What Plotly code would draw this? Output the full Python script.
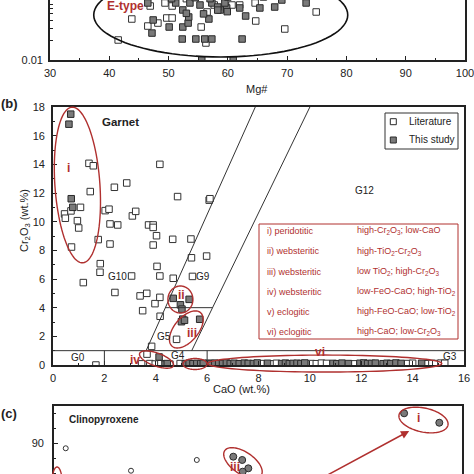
import math
import plotly.graph_objects as go

W = H = 474
FONT = "Arial, Liberation Sans, sans-serif"
RED = "#b0302f"
INK = "#222222"

# ---------------- Panel (a): Mg# vs (log) ----------------
a_lit_mg = [43.8, 41.5, 46.5, 48.2, 49.7, 50.6, 55.5, 56.3, 64.7, 69.6, 74.9, 46.9, 49.4, 50.6,
            57.7, 60.7, 64.6, 56.5, 62.0, 53.0, 66.0]
a_lit_val = [0.0418, 0.0201, 0.0327, 0.0363, 0.0433, 0.0433, 0.0316, 0.0181, 0.0390, 0.0295, 0.0534,
             0.0658, 0.0731, 0.0658, 0.0681, 0.0681, 0.0731, 0.0534, 0.0681, 0.085, 0.090]
a_study_mg = [47.4, 47.2, 50.1, 52.3, 54.6, 56.1, 57.3, 62.4, 55.6, 60.9, 52.4, 53.3, 53.4, 52.4,
              56.8, 58.7, 59.8, 63.0, 65.4, 67.9, 73.2, 69.1, 46.5, 51.2, 53.6, 55.3, 57.3, 58.3,
              59.5, 62.0, 54.5, 57.0, 60.0, 52.5, 50.5, 53.0, 58.3, 59.9, 55.9]
a_study_val = [0.0404, 0.0256, 0.0316, 0.0208, 0.0208, 0.0208, 0.0208, 0.0208, 0.0100, 0.0100,
               0.0316, 0.0363, 0.0448, 0.0573, 0.0418, 0.0573, 0.0614, 0.0464, 0.0614, 0.0635,
               0.0731, 0.0811, 0.0731, 0.0731, 0.0731, 0.0681, 0.0731, 0.0635, 0.0731, 0.0614,
               0.088, 0.085, 0.090, 0.095, 0.085, 0.051, 0.057, 0.054, 0.050]
a_xticks = [30, 40, 50, 60, 70, 80, 90, 100]

# ---------------- Panel (b): Garnet CaO vs Cr2O3 ----------------
b_lit_cao = [1.40, 1.57, 4.16, 1.45, 2.39, 2.87, 4.85, 6.08, 6.11,
             0.45, 0.48, 0.70, 1.07, 0.95, 1.00,
             2.03, 2.18, 2.22, 2.52, 3.09, 3.22, 3.72, 3.90, 3.90, 4.03,
             4.66, 5.37, 1.76, 2.22, 3.90, 0.72, 5.39, 5.98, 1.84, 1.83,
             3.06, 4.05, 4.16, 4.68, 5.43, 1.18, 2.41, 3.39, 3.65, 3.97,
             4.16, 3.49, 4.17, 4.81, 3.84, 3.66, 1.67,
             3.45, 3.77, 3.98, 4.20, 4.55, 4.95,
             6.05, 8.10, 8.55, 8.70, 10.05, 10.25, 10.45, 10.65, 11.70, 13.80, 14.00, 14.55,
             14.75, 14.90, 15.10, 15.25]
b_lit_cr = [14.07, 13.90, 14.00, 12.10, 12.40, 12.70, 11.75, 11.50, 11.60,
            10.54, 10.24, 10.75, 11.00, 10.07, 9.56,
            10.77, 10.87, 9.84, 9.77, 10.40, 10.72, 9.77, 9.77, 9.60, 9.02,
            8.77, 8.79, 8.75, 8.44, 8.37, 8.23, 7.48, 7.60, 7.07, 6.47,
            6.21, 6.88, 6.21, 6.05, 6.18, 5.75, 5.06, 4.82, 5.00, 4.28,
            4.72, 3.79, 3.40, 1.79, 1.30, 0.76, 0.00,
            0.08, 0.10, 0.07, 0.09, 0.06, 0.10,
            0.12, 0.10, 0.08, 0.12, 0.10, 0.09, 0.13, 0.11, 0.08, 0.10, 0.12, 0.09,
            0.11, 0.10, 0.13, 0.12]
b_study_cao = [0.69, 0.62, 0.71, 0.77, 4.68, 4.96, 5.02, 5.30, 5.05, 5.00, 5.12, 5.71, 4.13, 4.36, 4.45,
               5.15, 5.30, 5.45, 5.60, 5.75, 5.85,
               6.15, 6.30, 6.45, 6.60, 6.75, 6.90, 7.05, 7.25, 7.45, 7.60, 7.80, 7.95, 8.35, 8.90,
               9.05, 9.20, 9.35, 9.50, 9.65, 9.80, 10.90, 11.05, 11.25, 11.50, 11.95, 12.10, 12.25,
               12.40, 12.55, 12.85, 13.00, 13.15, 13.35, 13.55, 14.35]
b_study_cr = [17.50, 16.80, 11.60, 11.00, 4.65, 4.20, 3.90, 4.58, 3.20, 3.02, 3.12, 3.19, 0.56, 0.06, 0.10,
              0.10, 0.12, 0.09, 0.11, 0.10, 0.12,
              0.10, 0.13, 0.09, 0.11, 0.14, 0.10, 0.12, 0.09, 0.13, 0.11, 0.10, 0.14, 0.12, 0.10,
              0.13, 0.09, 0.11, 0.12, 0.10, 0.14, 0.11, 0.09, 0.13, 0.10, 0.12, 0.14, 0.10,
              0.11, 0.13, 0.09, 0.12, 0.10, 0.14, 0.11, 0.12]
b_ticks_x = [0, 2, 4, 6, 8, 10, 12, 14, 16]
b_ticks_y = [0, 2, 4, 6, 8, 10, 12, 14, 16, 18]

b_groups = ["i) peridotitic", "ii) websteritic", "iii) websteritic", "iv) websteritic",
            "v) eclogitic", "vi) eclogitic"]
b_group_desc = ["high-Cr<sub>2</sub>O<sub>3</sub>; low-CaO",
                "high-TiO<sub>2</sub>-Cr<sub>2</sub>O<sub>3</sub>",
                "low TiO<sub>2</sub>; high-Cr<sub>2</sub>O<sub>3</sub>",
                "low-FeO-CaO; high-TiO<sub>2</sub>",
                "high-FeO-CaO; low-TiO<sub>2</sub>",
                "high-CaO; low-Cr<sub>2</sub>O<sub>3</sub>"]

# ---------------- Panel (c): Clinopyroxene ----------------
c_lit_x = [0.46, 3.02, 5.60]
c_lit_y = [89.12, 85.38, 87.17]
c_study_x = [13.73, 15.11, 7.03, 7.38, 7.62, 7.40]
c_study_y = [94.95, 93.38, 87.72, 87.17, 85.78, 85.22]

# ---------------- geometry ----------------
PA = dict(xd=[50 / W, 465 / W], yd=[1 - 60 / H, 1.0], xr=[30, 100], yr=[-2, -2 + 60 / 66], log=True)
PB = dict(xd=[53 / W, 464 / W], yd=[1 - 365 / H, 1 - 107 / H], xr=[0, 16], yr=[0, 18], log=False)
PC = dict(xd=[54 / W, 462 / W], yd=[0.0, 1 - 406 / H], xr=[0, 16],
          yr=[90 - (474 - 443) / 6, 90 + (443 - 406) / 6], log=False)


def to_px(p, xv, yv):
    x0, x1 = p["xd"]; r0, r1 = p["xr"]
    y0, y1 = p["yd"]; s0, s1 = p["yr"]
    yy = math.log10(yv) if p["log"] else yv
    px = (x0 + (xv - r0) / (r1 - r0) * (x1 - x0)) * W
    py = (1 - (y0 + (yy - s0) / (s1 - s0) * (y1 - y0))) * H
    return px, py


def ellipse(p, cx, cy, rx, ry, ang, color=RED, width=1.4):
    pcx, pcy = to_px(p, cx, cy)
    a = math.radians(ang)
    pts = []
    for i in range(97):
        t = 2 * math.pi * i / 96
        ex, ey = rx * math.cos(t), ry * math.sin(t)
        X = pcx + ex * math.cos(a) - ey * math.sin(a)
        Y = pcy - (ex * math.sin(a) + ey * math.cos(a))
        pts.append(f"{X / W:.5f},{1 - Y / H:.5f}")
    return dict(type="path", xref="paper", yref="paper", path="M " + " L ".join(pts) + " Z",
                line=dict(color=color, width=width), layer="above")


def ptext(px, py, text, size=10, color=INK, bold=False, xanchor="center", angle=0):
    t = f"<b>{text}</b>" if bold else text
    return dict(x=px / W, y=1 - py / H, xref="paper", yref="paper", text=t, showarrow=False,
                xanchor=xanchor, yanchor="middle", textangle=angle,
                font=dict(family=FONT, size=size, color=color))


def dtext(xr, yr, x, y, text, size=10, color=INK, bold=False, xanchor="center"):
    t = f"<b>{text}</b>" if bold else text
    return dict(x=x, y=y, xref=xr, yref=yr, text=t, showarrow=False, xanchor=xanchor,
                yanchor="middle", font=dict(family=FONT, size=size, color=color))


open_sq = dict(symbol="square", size=6.5, color="white", line=dict(color="#333333", width=1))
fill_sq = dict(symbol="square", size=6.5, color="#7a7a7a", line=dict(color="#2a2a2a", width=1))

fig = go.Figure()
# panel a
fig.add_trace(go.Scatter(x=a_lit_mg, y=a_lit_val, mode="markers", marker=open_sq,
                         xaxis="x", yaxis="y", showlegend=False))
fig.add_trace(go.Scatter(x=a_study_mg, y=a_study_val, mode="markers", marker=fill_sq,
                         xaxis="x", yaxis="y", showlegend=False))
# panel b
fig.add_trace(go.Scatter(x=b_lit_cao, y=b_lit_cr, mode="markers", marker=open_sq,
                         xaxis="x2", yaxis="y2", showlegend=False))
fig.add_trace(go.Scatter(x=b_study_cao, y=b_study_cr, mode="markers", marker=fill_sq,
                         xaxis="x2", yaxis="y2", showlegend=False))
# panel c
fig.add_trace(go.Scatter(x=c_lit_x, y=c_lit_y, mode="markers",
                         marker=dict(symbol="circle", size=5, color="white",
                                     line=dict(color="#333333", width=1)),
                         xaxis="x3", yaxis="y3", showlegend=False))
fig.add_trace(go.Scatter(x=c_study_x, y=c_study_y, mode="markers",
                         marker=dict(symbol="circle", size=7, color="#7a7a7a",
                                     line=dict(color="#2a2a2a", width=1)),
                         xaxis="x3", yaxis="y3", showlegend=False))

axcommon = dict(showgrid=False, zeroline=False, showline=True, linecolor=INK, linewidth=1.6,
                ticks="inside", tickcolor=INK, ticklen=4, tickwidth=1, automargin=False,
                ticklabeloverflow="allow",
                tickfont=dict(family=FONT, size=11, color=INK))

shapes = []
annos = []

# ---- panel b lines (classification fields) ----
b_lines = [((3.625, 1), (7.875, 18)), ((5.4, 1), (10.0, 18)), ((4.375, 4), (6.21, 4)),
           ((0, 1), (16, 1)), ((2, 0), (2, 1)), ((6, 0), (6, 1))]
for (x0, y0), (x1, y1) in b_lines:
    shapes.append(dict(type="line", xref="x2", yref="y2", x0=x0, y0=y0, x1=x1, y1=y1,
                       line=dict(color="#333333", width=1)))

# ellipses
shapes.append(ellipse(PA, 58.8, 0.0481, 127, 42, 0, color="#111111", width=1.6))
shapes.append(ellipse(PB, 0.95, 12.56, 22.5, 78, 4))
shapes.append(ellipse(PB, 4.96, 4.57, 12.5, 13.5, 0))
shapes.append(ellipse(PB, 5.19, 2.48, 22, 12, 50))
shapes.append(ellipse(PB, 4.03, 0.38, 18, 6.5, -20))
shapes.append(ellipse(PB, 5.53, 0.07, 12, 5.5, 0))
shapes.append(ellipse(PB, 10.58, 0.10, 117, 8.5, 0))
shapes.append(ellipse(PC, 14.49, 93.83, 25, 12, -12))
shapes.append(ellipse(PC, 7.41, 86.67, 22, 11, -34))
shapes.append(ellipse(PC, 0.12, 83.5, 5, 15, 0))

# legend box (manual)
shapes.append(dict(type="rect", xref="paper", yref="paper", x0=385 / W, x1=458 / W,
                   y0=1 - 149 / H, y1=1 - 113 / H, line=dict(color="#333333", width=1),
                   fillcolor="white"))
for cy, fc in [(121.7, "white"), (140, "#7a7a7a")]:
    shapes.append(dict(type="rect", xref="paper", yref="paper", x0=390.3 / W, x1=396.3 / W,
                       y0=1 - (cy + 3) / H, y1=1 - (cy - 3) / H,
                       line=dict(color="#2a2a2a", width=1), fillcolor=fc))
annos.append(ptext(407, 121.7, "Literature", size=10, xanchor="left"))
annos.append(ptext(407, 140, "This study", size=10, xanchor="left"))

# red info box
shapes.append(dict(type="rect", xref="paper", yref="paper", x0=259 / W, x1=458 / W,
                   y0=1 - 339 / H, y1=1 - 224 / H, line=dict(color=RED, width=1),
                   fillcolor="white"))
rows_y = [230.7, 251, 271.7, 291.7, 311.7, 331.7]
for yy, g, d in zip(rows_y, b_groups, b_group_desc):
    annos.append(ptext(265, yy, g, size=9, color=RED, xanchor="left"))
    annos.append(ptext(355, yy, d, size=9, color=RED, xanchor="left"))

# panel labels & titles
annos.append(ptext(126, 6, "E-type", size=12, color=RED, bold=True))
annos.append(ptext(257, 89, "Mg#", size=11))
annos.append(ptext(9, 103, "(b)", size=13, bold=True))
annos.append(ptext(9, 413, "(c)", size=13, bold=True))
annos.append(ptext(100, 122.3, "Garnet", size=11.5, bold=True, xanchor="left"))
annos.append(ptext(67, 419, "Clinopyroxene", size=10, bold=True, xanchor="left"))
annos.append(ptext(241, 389, "CaO (wt.%)", size=11))
annos.append(ptext(25, 221, "Cr<sub>2</sub>O<sub>3</sub> (wt.%)", size=11, angle=-90))

# field labels in panel b
for x, y, t in [(0.99, 0.51, "G0"), (4.86, 0.63, "G4"), (4.31, 2.02, "G5"), (2.52, 6.2, "G10"),
                (5.85, 6.16, "G9"), (12.14, 12.14, "G12"), (15.45, 0.56, "G3")]:
    annos.append(dtext("x2", "y2", x, y, t, size=10))
# group labels
for x, y, t in [(0.62, 13.75, "i"), (5.0, 4.88, "ii"), (5.43, 2.2, "iii"), (3.19, 0.35, "iv"),
                (5.4, -0.9, "v"), (10.4, 0.93, "vi")]:
    annos.append(dtext("x2", "y2", x, y, t, size=12, color=RED, bold=True))
for x, y, t in [(14.29, 94.1, "i"), (7.1, 86.05, "iii")]:
    annos.append(dtext("x3", "y3", x, y, t, size=12, color=RED, bold=True))

# arrow in panel c
annos.append(dict(x=13.93, y=92.0, ax=10.24, ay=83.55, xref="x3", yref="y3", axref="x3",
                  ayref="y3", showarrow=True, arrowhead=2, arrowsize=1.1, arrowwidth=1.5,
                  arrowcolor=RED, text=""))

fig.update_layout(
    width=W, height=H, autosize=False, margin=dict(l=0, r=0, t=0, b=0, autoexpand=False),
    paper_bgcolor="white", plot_bgcolor="white", showlegend=False,
    font=dict(family=FONT, color=INK),
    xaxis=dict(axcommon, domain=PA["xd"], range=PA["xr"], anchor="y", tickvals=a_xticks,
               minor=dict(dtick=5, ticks="inside", ticklen=2, tickcolor=INK),
               ticklabelstandoff=2),
    yaxis=dict(axcommon, domain=PA["yd"], type="log", range=PA["yr"], anchor="x", mirror=True,
               tickvals=[0.01], ticktext=["0.01"], ticklen=3, ticklabelstandoff=3,
               minor=dict(tickvals=[0.02, 0.03, 0.04, 0.05, 0.06, 0.07, 0.08], ticks="inside",
                          ticklen=3, tickcolor=INK)),
    xaxis2=dict(axcommon, domain=PB["xd"], range=PB["xr"], anchor="y2", mirror=True,
                tickvals=b_ticks_x, minor=dict(dtick=1, ticks="inside", ticklen=2, tickcolor=INK),
                ticklabelstandoff=2),
    yaxis2=dict(axcommon, domain=PB["yd"], range=PB["yr"], anchor="x2", mirror=True,
                tickvals=b_ticks_y, minor=dict(dtick=1, ticks="inside", ticklen=2, tickcolor=INK),
                ticklabelstandoff=4),
    xaxis3=dict(axcommon, domain=PC["xd"], range=PC["xr"], anchor="y3", side="top",
                showticklabels=False, ticks=""),
    yaxis3=dict(axcommon, domain=PC["yd"], range=PC["yr"], anchor="x3", mirror=True,
                dtick=10, tick0=0, minor=dict(dtick=2.5, ticks="inside", ticklen=2, tickcolor=INK),
                ticklabelstandoff=6),
    shapes=shapes, annotations=annos,
)

fig.write_html("out.html", config={"displayModeBar": False},
               post_script="document.body.style.margin='0px';")
